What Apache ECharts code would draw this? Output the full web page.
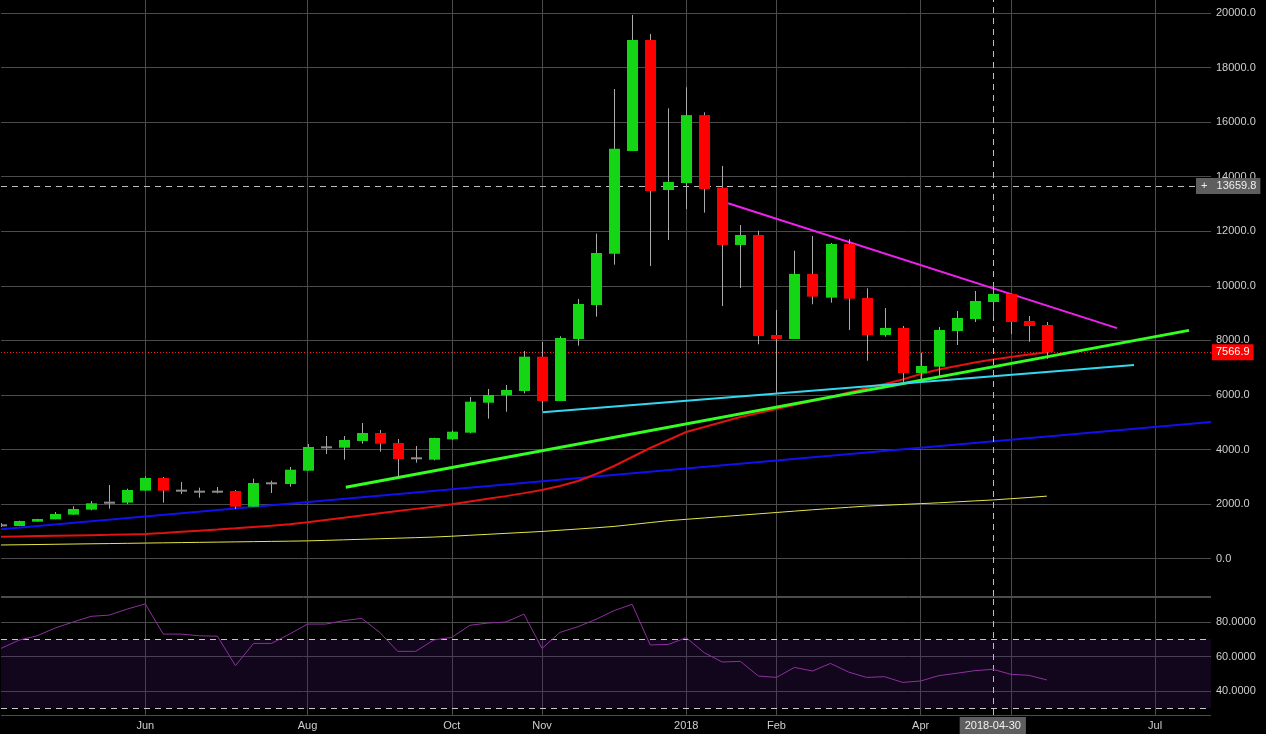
<!DOCTYPE html>
<html><head><meta charset="utf-8">
<script src="https://cdn.jsdelivr.net/npm/echarts@6/dist/echarts.min.js"></script>
<style>html,body{margin:0;padding:0;background:#000;} #c{width:1266px;height:734px;}</style>
</head><body><div id="c"></div><script>
// Weekly candles (week start dates), 2017-04-10 .. 2018-05-21
const weeks = ['2017-04-10','2017-04-17','2017-04-24','2017-05-01','2017-05-08','2017-05-15','2017-05-22','2017-05-29',
'2017-06-05','2017-06-12','2017-06-19','2017-06-26','2017-07-03','2017-07-10','2017-07-17','2017-07-24','2017-07-31',
'2017-08-07','2017-08-14','2017-08-21','2017-08-28','2017-09-04','2017-09-11','2017-09-18','2017-09-25',
'2017-10-02','2017-10-09','2017-10-16','2017-10-23','2017-10-30','2017-11-06','2017-11-13','2017-11-20','2017-11-27',
'2017-12-04','2017-12-11','2017-12-18','2017-12-25','2018-01-01','2018-01-08','2018-01-15','2018-01-22','2018-01-29',
'2018-02-05','2018-02-12','2018-02-19','2018-02-26','2018-03-05','2018-03-12','2018-03-19','2018-03-26',
'2018-04-02','2018-04-09','2018-04-16','2018-04-23','2018-04-30','2018-05-07','2018-05-14','2018-05-21'];
const firstWeek = -38; // week offset of weeks[0] from 2018-01-01

const opens  = [1220,1195,1353,1440,1610,1795,2050,2050,2490,2955,2490,2453,2453,2478,1903,2760,2735,3222,4080,4066,4311,4604,4238,3677,3626,
4373,4616,5715,5987,6144,7402,5778,8050,9297,11178,14942,19012,13513,13769,16257,13597,11497,11863,8197,8050,10434,9565,11533,9553,8197,8453,
6804,7035,8343,8783,9407,9700,8710,8563];
const closes = [1220,1378,1452,1635,1818,2027,2050,2515,2955,2490,2490,2453,2453,1903,2771,2760,3259,4091,4080,4348,4604,4212,3651,3677,4421,
4652,5752,5998,6181,7402,5778,8087,9334,11203,15027,19012,13476,13806,16257,13549,11497,11863,8160,8050,10434,9602,11533,9528,8197,8453,6804,
7061,8380,8820,9443,9700,8673,8527,7567];
const lows   = [1160,1190,1350,1440,1600,1770,1830,2002,2490,2050,2368,2233,2394,1818,1900,2405,2636,3220,3834,3626,4212,3919,3003,3516,3600,
4350,4593,5129,5385,6060,5411,5780,7805,8868,10774,14942,10727,11680,12816,12681,9260,9920,7856,6071,8050,9323,9382,8380,7255,8135,6449,
6522,6668,7830,8673,8856,8233,7951,7317];
const highs  = [1300,1390,1460,1708,1917,2112,2698,2563,3017,2990,2808,2600,2625,2515,2930,2856,3358,4201,4494,4494,4971,4714,4385,4128,4433,
4700,5924,6218,6364,7611,7941,8150,9517,11911,17216,19929,19232,16506,17278,16361,14393,12229,12020,9113,11288,11826,11570,11705,9909,9187,8527,
7548,8490,9077,9810,10067,9700,8893,8673];

// Moving averages
const maRed = [800,812,824,836,848,860,872,886,900,940,982,1025,1068,1112,1160,1208,1257,1335,1415,1495,1578,1660,1742,1823,1905,
1990,2090,2190,2290,2400,2515,2662,2845,3101,3395,3725,4055,4348,4641,4824,5008,5191,5338,5485,5631,5778,5925,6089,6254,6401,6566,
6767,6932,7061,7189,7299,7391,7482,7563];
const maYellow = [499,507,516,525,534,543,551,560,569,578,587,596,604,613,622,631,640,650,668,688,708,728,748,768,790,
820,855,890,925,960,995,1040,1085,1130,1180,1250,1320,1390,1440,1490,1540,1590,1640,1690,1740,1790,1835,1880,1925,1955,1985,
2015,2045,2080,2115,2150,2195,2240,2290];

// RSI (lower panel)
const rsi = [64.7,69.5,72,76.5,80,83.3,84,87.5,90.5,73,73,72,71.8,54.7,67.6,67.6,73,78.8,78.8,80.8,82.1,74,63,63,69.6,
71.1,78.1,79.4,80,84.6,64.7,74,77.3,81.6,86.6,90.3,66.7,67,70.9,62.2,56.8,57.2,48.7,47.9,53.7,51.6,56,51,47.9,48.3,45,
45.8,48.9,50.3,51.8,52.6,49.7,49.1,46.4];

// Trend lines: [weekOffset, price]
const trendBlue    = [[-38, 1074], [29.1, 5007]];
const trendGreen   = [[-18.88, 2614], [27.88, 8366]];
const trendCyan    = [[-7.97, 5363], [24.83, 7097]];
const trendMagenta = [[2.32, 13026], [23.89, 8450]];

// Axis ticks / labels
const priceMin = -1371, priceMax = 20477;
const rsiMin = 26.1, rsiMax = 94.5;
const priceTicks = [0,2000,4000,6000,8000,10000,12000,14000,16000,18000,20000];
const rsiTicks = [40,60,80];
const gridWeeks = [-30,-21,-13,-8,0,5,13,18,26];
const labelWeeks = [-30,-21,-13,-8,0,5,13,17,26];
const labelTexts = ['Jun','Aug','Oct','Nov','2018','Feb','Apr','2018-04-30','Jul'];
const crossWeek = 17;
const crossPrice = 13659.8;
const lastPrice = 7566.9;
const rsiBands = [30, 70];

const GRID = '#4b4b4b', TXT = '#cfcfcf', GREEN = '#14d614', RED = '#ff0000';
const FONT = 'Arial,"Liberation Sans",sans-serif';

const candleData = weeks.map((d, i) => [i + firstWeek, opens[i], closes[i], lows[i], highs[i]]);
const redData = weeks.map((d, i) => [i + firstWeek, maRed[i]]);
const yellowData = weeks.map((d, i) => [i + firstWeek, maYellow[i]]);
const rsiData = weeks.map((d, i) => [i + firstWeek, rsi[i]]);

function renderCandle(params, api) {
  const x = api.value(0), o = api.value(1), c = api.value(2), l = api.value(3), h = api.value(4);
  const pO = api.coord([x, o]), pC = api.coord([x, c]), pL = api.coord([x, l]), pH = api.coord([x, h]);
  const w = Math.round(api.size([1, 0])[0] * 0.61);
  const cx = Math.round(pO[0]) + 0.5;
  const kids = [{ type: 'line', shape: { x1: cx, y1: pH[1], x2: cx, y2: pL[1] }, style: { stroke: '#a9a9a9', lineWidth: 1 } }];
  if (o === c) {
    kids.push({ type: 'line', shape: { x1: cx - w / 2, y1: pO[1], x2: cx + w / 2, y2: pO[1] }, style: { stroke: '#8c8c8c', lineWidth: 2 } });
  } else {
    const top = Math.min(pO[1], pC[1]), bot = Math.max(pO[1], pC[1]);
    kids.push({ type: 'rect', shape: { x: cx - w / 2, y: top, width: w, height: bot - top }, style: { fill: c > o ? GREEN : RED } });
  }
  return { type: 'group', children: kids };
}

function xLabel(v) {
  const i = labelWeeks.indexOf(Math.round(v));
  if (i < 0) return '';
  return labelWeeks[i] === crossWeek ? '{hl|' + labelTexts[i] + '}' : labelTexts[i];
}

const xCommon = { type: 'value', min: firstWeek, max: 29.1, axisLine: { show: false },
  splitLine: { show: true, lineStyle: { color: GRID, width: 1 } } };

const chart = echarts.init(document.getElementById('c'), null, { renderer: 'canvas' });
chart.setOption({
  backgroundColor: '#000',
  animation: false,
  grid: [
    { left: 1, right: 55, top: 0, height: 596, outerBoundsMode: 'none', containLabel: false },
    { left: 1, right: 55, top: 597, height: 118, outerBoundsMode: 'none', containLabel: false }
  ],
  xAxis: [
    Object.assign({}, xCommon, { gridIndex: 0, axisLabel: { show: false }, axisTick: { show: false, customValues: gridWeeks } }),
    Object.assign({}, xCommon, { gridIndex: 1,
      axisTick: { show: false, customValues: gridWeeks },
      axisLabel: { show: true, customValues: labelWeeks, formatter: xLabel, color: TXT, fontSize: 11, fontFamily: FONT, margin: 2, lineHeight: 18,
        rich: { hl: { backgroundColor: '#5e5e5e', color: '#f0f0f0', padding: [0, 5, 0, 5], lineHeight: 18, height: 18, fontSize: 11, fontFamily: FONT } } } })
  ],
  yAxis: [
    { gridIndex: 0, type: 'value', position: 'right', min: priceMin, max: priceMax,
      axisLine: { show: true, lineStyle: { color: GRID } }, axisTick: { show: false, customValues: [priceMin].concat(priceTicks) },
      axisLabel: { customValues: priceTicks, formatter: v => v.toFixed(1), color: TXT, fontSize: 11, fontFamily: FONT, margin: 5 },
      splitLine: { show: true, lineStyle: { color: GRID } } },
    { gridIndex: 1, type: 'value', position: 'right', min: rsiMin, max: rsiMax,
      axisLine: { show: true, lineStyle: { color: GRID } }, axisTick: { show: false, customValues: [rsiMin].concat(rsiTicks, [rsiMax]) },
      axisLabel: { customValues: rsiTicks, formatter: v => v.toFixed(4), color: TXT, fontSize: 11, fontFamily: FONT, margin: 5 },
      splitLine: { show: true, lineStyle: { color: GRID } } }
  ],
  series: [
    { type: 'line', name: 'MA slow', xAxisIndex: 0, yAxisIndex: 0, data: yellowData, symbol: 'none',
      lineStyle: { color: '#e6e64a', width: 1 }, z: 3 },
    { type: 'line', name: 'Trend blue', xAxisIndex: 0, yAxisIndex: 0, data: trendBlue, symbol: 'none',
      lineStyle: { color: '#1111ee', width: 2 }, z: 3 },
    { type: 'line', name: 'MA fast', xAxisIndex: 0, yAxisIndex: 0, data: redData, symbol: 'none',
      lineStyle: { color: '#e01212', width: 2 }, z: 4,
      markLine: { symbol: ['none', 'none'], silent: true, animation: false,
        data: [
          { yAxis: lastPrice, lineStyle: { color: '#ff1a1a', type: [1, 2], width: 1 },
            label: { show: true, position: 'end', formatter: String(lastPrice), color: '#fff', backgroundColor: '#ff0000',
              padding: [3, 4, 2, 4], fontSize: 11, fontFamily: FONT, distance: 1 } },
          { yAxis: crossPrice, lineStyle: { color: '#bdbdbd', type: [6, 5], width: 1 },
            label: { show: true, position: 'end', formatter: '+   ' + crossPrice.toFixed(1), color: '#f0f0f0', backgroundColor: '#5e5e5e',
              padding: [3, 4, 2, 5], fontSize: 11, fontFamily: FONT, distance: -15 } },
          { xAxis: crossWeek, lineStyle: { color: '#bdbdbd', type: [6, 5], width: 1 }, label: { show: false } }
        ] } },
    { type: 'line', name: 'Trend green', xAxisIndex: 0, yAxisIndex: 0, data: trendGreen, symbol: 'none',
      lineStyle: { color: '#33ff22', width: 3 }, z: 5 },
    { type: 'line', name: 'Trend cyan', xAxisIndex: 0, yAxisIndex: 0, data: trendCyan, symbol: 'none',
      lineStyle: { color: '#33d8ee', width: 2 }, z: 5 },
    { type: 'line', name: 'Trend magenta', xAxisIndex: 0, yAxisIndex: 0, data: trendMagenta, symbol: 'none',
      lineStyle: { color: '#ee22ee', width: 2 }, z: 5 },
    { type: 'custom', name: 'Price', xAxisIndex: 0, yAxisIndex: 0, data: candleData, renderItem: renderCandle,
      encode: { x: 0, y: [1, 2, 3, 4] }, clip: true, z: 6 },
    { type: 'line', name: 'RSI', xAxisIndex: 1, yAxisIndex: 1, data: rsiData, symbol: 'none',
      lineStyle: { color: '#8f2f9f', width: 1 }, z: 5,
      markArea: { silent: true, itemStyle: { color: 'rgba(70,25,110,0.25)' }, data: [[{ yAxis: rsiBands[0] }, { yAxis: rsiBands[1] }]] },
      markLine: { symbol: ['none', 'none'], silent: true, label: { show: false },
        data: [
          { yAxis: rsiBands[0], lineStyle: { color: '#c8c8c8', type: [6, 5], width: 1 } },
          { yAxis: rsiBands[1], lineStyle: { color: '#c8c8c8', type: [6, 5], width: 1 } },
          { xAxis: crossWeek, lineStyle: { color: '#bdbdbd', type: [6, 5], width: 1 } }
        ] } }
  ]
});
</script></body></html>
